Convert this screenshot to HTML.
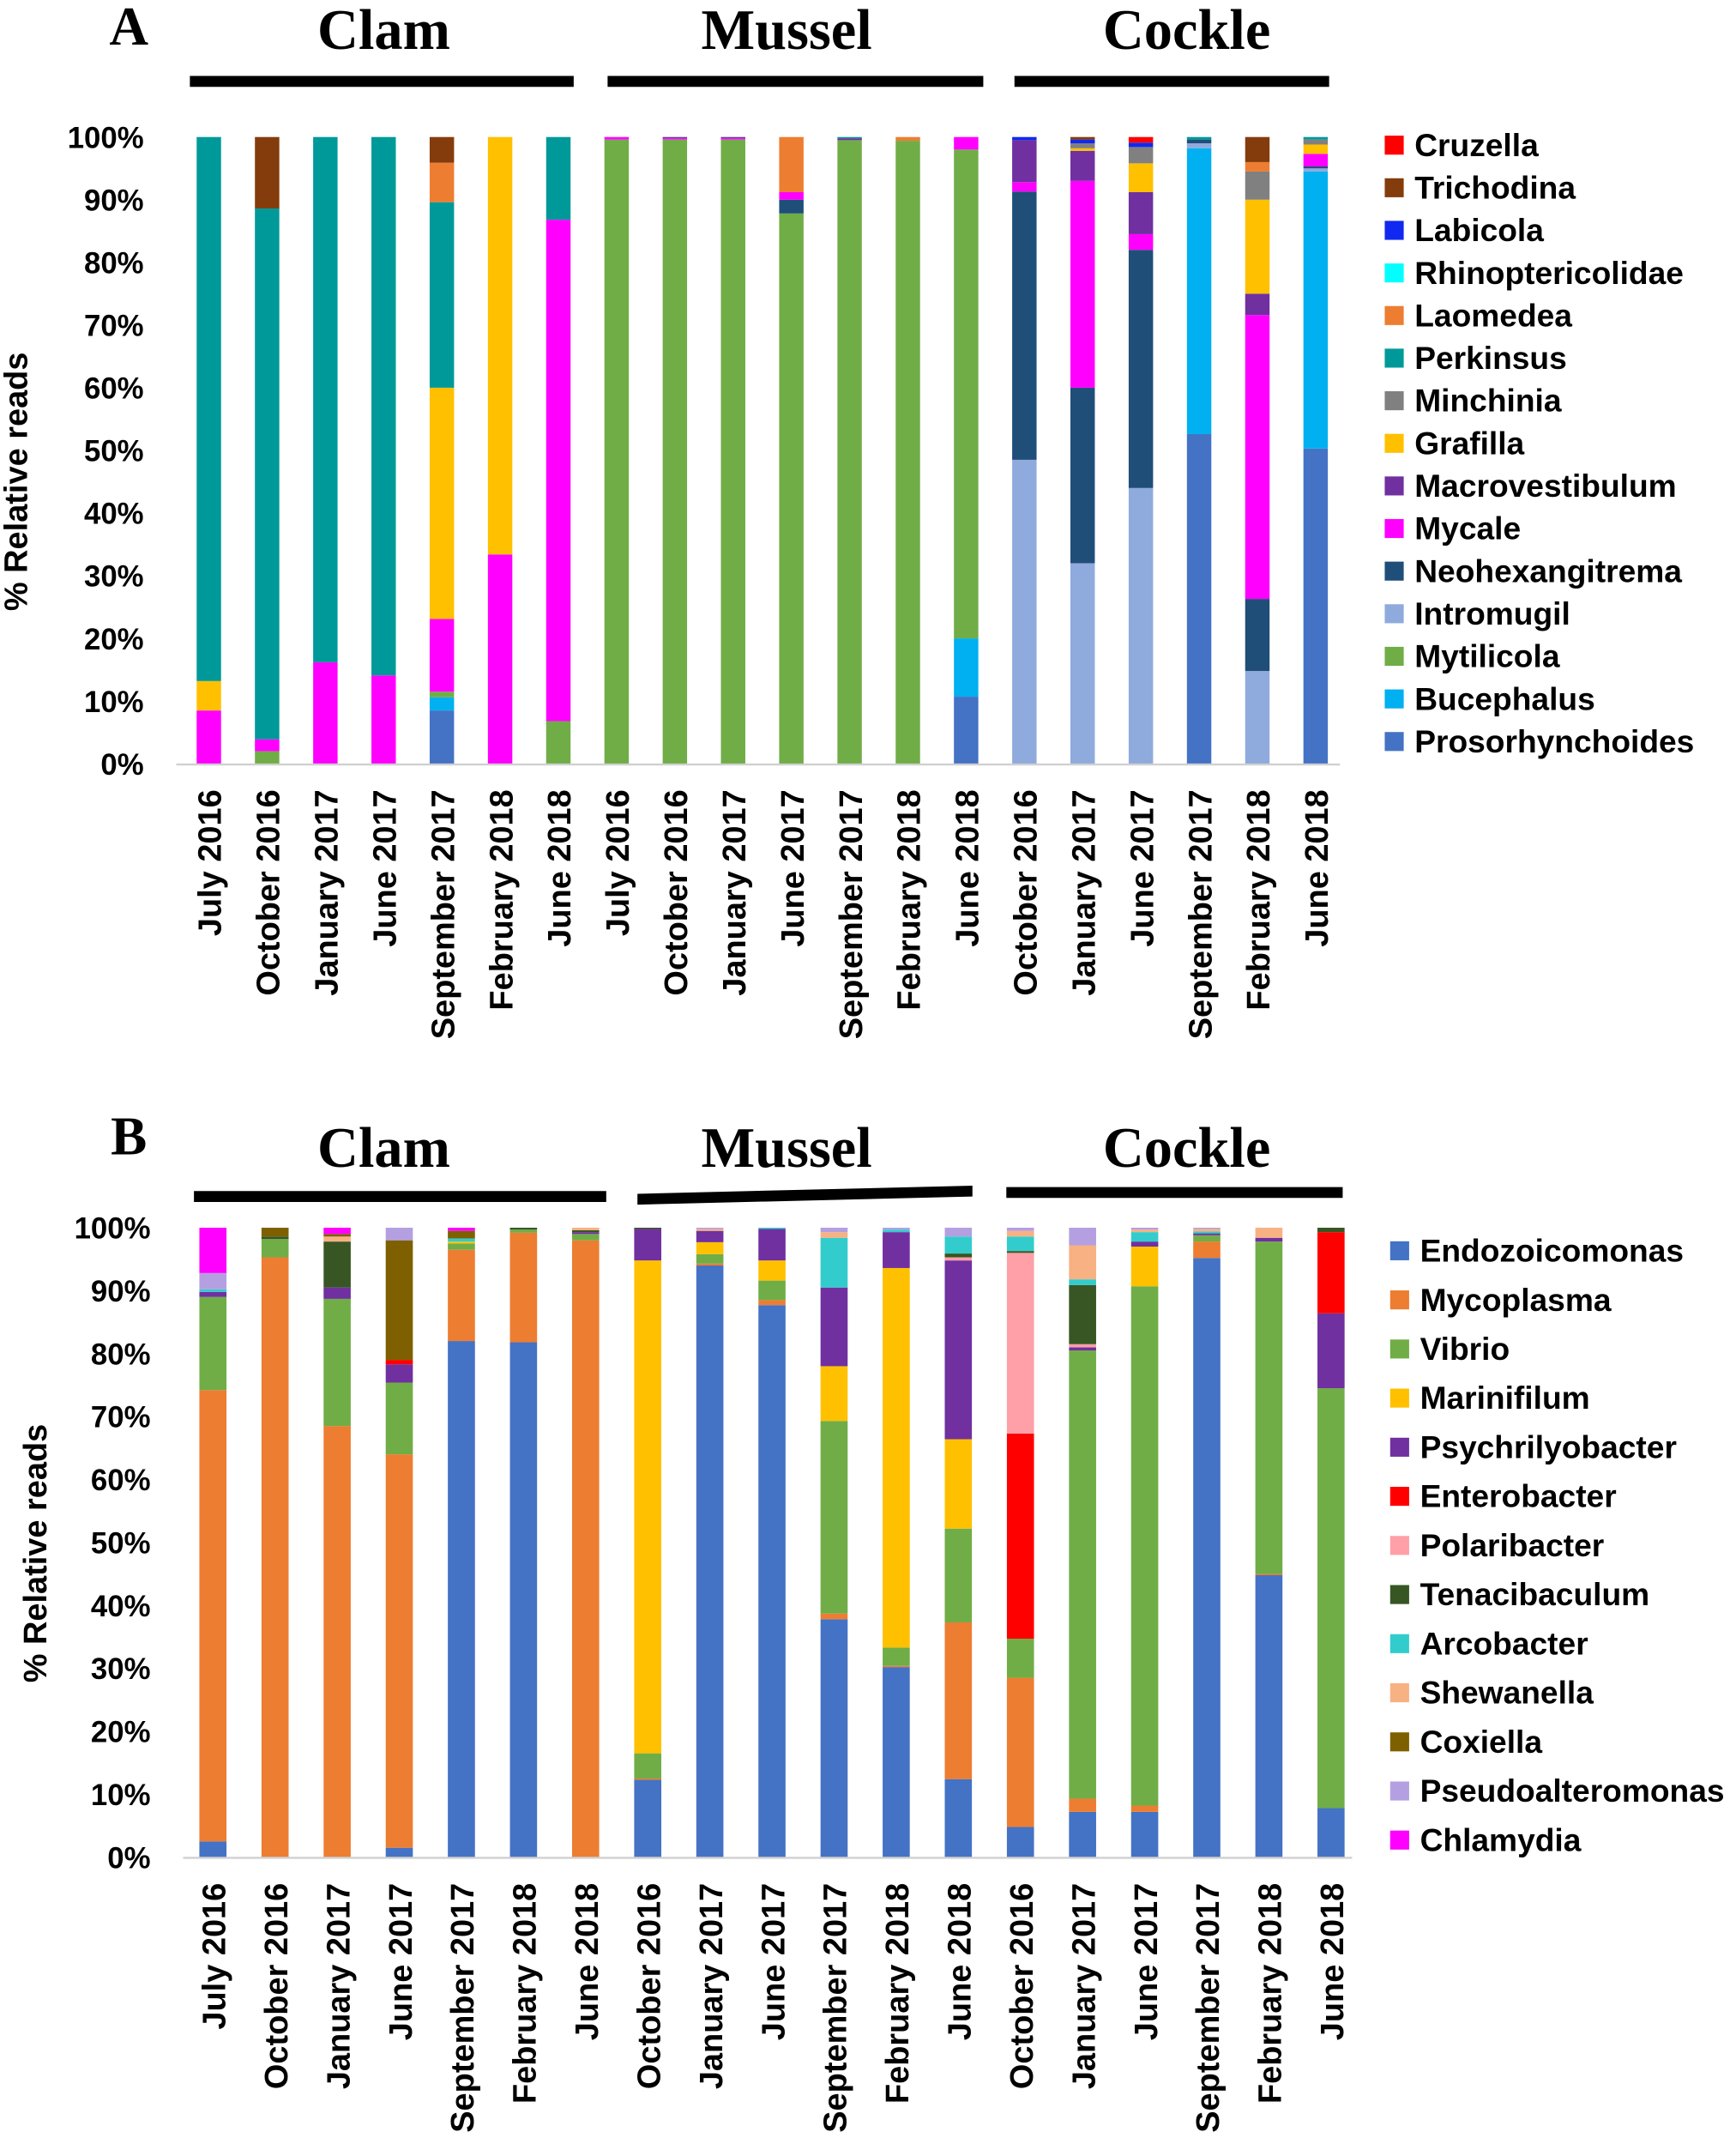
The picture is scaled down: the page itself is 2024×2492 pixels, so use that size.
<!DOCTYPE html>
<html><head><meta charset="utf-8"><style>
html,body{margin:0;padding:0;background:#fff;}
svg{display:block;}
text{font-family:"Liberation Sans",sans-serif;font-weight:bold;fill:#000;}
.serif{font-family:"Liberation Serif",serif;}
</style></head><body>
<svg id="fig" xmlns="http://www.w3.org/2000/svg" width="2024" height="2492" viewBox="0 0 1280 1576" preserveAspectRatio="none"></svg>
<script>
// ---------- Panel A data ----------
const catsA = ["July 2016","October 2016","January 2017","June 2017","September 2017","February 2018","June 2018","July 2016","October 2016","January 2017","June 2017","September 2017","February 2018","June 2018","October 2016","January 2017","June 2017","September 2017","February 2018","June 2018"];
const seriesNamesA = ["Prosorhynchoides","Bucephalus","Mytilicola","Intromugil","Neohexangitrema","Mycale","Macrovestibulum","Grafilla","Minchinia","Perkinsus","Laomedea","Rhinoptericolidae","Labicola","Trichodina","Cruzella"];
const colorsA = ["#4472C4","#00B0F0","#70AD47","#8FAADC","#1F4E79","#FF00FF","#7030A0","#FFC000","#808080","#009999","#ED7D31","#00FFFF","#1028F0","#843C0C","#FF0000"];
const aProsor = [0,0,0,0,8.5,0,0, 0,0,0,0,0,0,10.7, 0,0,0,52.6,0,50.3];
const aBuceph = [0,0,0,0,2.1,0,0, 0,0,0,0,0,0,9.3, 0,0,0,45.6,0,44.2];
const aMytil = [0,2,0,0,0.9,0,6.8, 99.6,99.6,99.6,87.8,99.5,99.4,78, 0,0,0,0,0,0];
const aIntro = [0,0,0,0,0,0,0, 0,0,0,0,0,0,0, 48.5,32,44,0.8,14.8,0.5];
const aNeohex = [0,0,0,0,0,0,0, 0,0,0,2.2,0,0,0, 42.8,28,38,0.6,11.5,0.3];
const aMycale = [8.5,1.9,16.2,14.1,11.6,33.4,80, 0.4,0.2,0.2,1.2,0,0,2, 1.5,33,2.5,0,45.3,2];
const aMacro = [0,0,0,0,0,0,0, 0,0.2,0.2,0,0.3,0,0, 6.7,4.8,6.7,0,3.4,0];
const aGraf = [4.7,0,0,0,36.9,66.6,0, 0,0,0,0,0,0,0, 0,0.4,4.6,0,15,1.5];
const aMinch = [0,0,0,0,0,0,0, 0,0,0,0,0,0,0, 0,0.8,2.6,0,4.5,0.8];
const aPerk = [86.8,84.7,83.8,85.9,29.6,0,13.2, 0,0,0,0,0.2,0,0, 0,0,0,0.4,0,0.4];
const aLaom = [0,0,0,0,6.3,0,0, 0,0,0,8.8,0,0.6,0, 0,0,0,0,1.5,0];
const aRhino = [0,0,0,0,0,0,0, 0,0,0,0,0,0,0, 0,0,0,0,0,0];
const aLabic = [0,0,0,0,0,0,0, 0,0,0,0,0,0,0, 0.5,0.6,0.7,0,0,0];
const aTrich = [0,11.4,0,0,4.1,0,0, 0,0,0,0,0,0,0, 0,0.4,0,0,4,0];
const aCruz = [0,0,0,0,0,0,0, 0,0,0,0,0,0,0, 0,0,0.9,0,0,0];
const valuesA = [aProsor,aBuceph,aMytil,aIntro,aNeohex,aMycale,aMacro,aGraf,aMinch,aPerk,aLaom,aRhino,aLabic,aTrich,aCruz];

// ---------- Panel B data ----------
const catsB = ["July 2016","October 2016","January 2017","June 2017","September 2017","February 2018","June 2018","October 2016","January 2017","June 2017","September 2017","February 2018","June 2018","October 2016","January 2017","June 2017","September 2017","February 2018","June 2018"];
const seriesNamesB = ["Endozoicomonas","Mycoplasma","Vibrio","Marinifilum","Psychrilyobacter","Enterobacter","Polaribacter","Tenacibaculum","Arcobacter","Shewanella","Coxiella","Pseudoalteromonas","Chlamydia"];
const colorsB = ["#4472C4","#ED7D31","#70AD47","#FFC000","#7030A0","#FF0000","#FF9FA8","#375623","#33CCCC","#F8B183","#7F6000","#B4A0E0","#FF00FF"];
const bEndo = [2.5,0,0,1.5,82,81.8,0, 12.3,94,87.7,37.8,30.2,12.4, 4.8,7.2,7.2,95.2,44.8,7.8];
const bMyco = [71.7,95.3,68.5,62.5,14.5,17.4,98, 0.2,0.3,0.8,0.9,0.2,24.9, 23.7,2.1,1,2.6,0.2,0];
const bVibrio = [14.8,2.9,20.2,11.4,1,0.5,1, 4,1.5,3.1,30.6,2.9,14.9, 6.2,71.2,82.5,1,52.8,66.7];
const bMarin = [0,0,0,0,0.3,0,0, 78.3,1.9,3.2,8.7,60.3,14.2, 0,0,6.3,0,0,0];
const bPsych = [0.8,0,1.8,2.9,0,0,0.3, 5,1.8,5,12.5,5.7,28.4, 0,0.5,0.8,0.3,0.6,11.9];
const bEntero = [0,0,0,0.7,0,0,0, 0,0,0,0,0,0, 32.6,0,0,0,0,12.9];
const bPolari = [0,0,0,0,0,0,0, 0,0,0,0,0,0.5, 28.7,0.5,0,0,0,0];
const bTenaci = [0,0.4,7.3,0,0,0.3,0.3, 0.2,0,0,0,0,0.6, 0.3,9.4,0,0,0,0.7];
const bArco = [0.4,0,0,0,0.5,0,0, 0,0,0.2,7.9,0.4,2.7, 2.3,0.9,1.5,0.3,0,0];
const bShewan = [0,0,0.8,0,0,0,0.4, 0,0.3,0,0.9,0,0, 0.9,5.4,0.4,0.4,1.6,0];
const bCoxi = [0,1.4,0.4,19,1.2,0,0, 0,0,0,0,0,0, 0,0,0,0,0,0];
const bPseudo = [2.6,0,0,2,0,0,0, 0,0.2,0,0.7,0.3,1.4, 0.5,2.8,0.3,0.2,0,0];
const bChlam = [7.2,0,1,0,0.5,0,0, 0,0,0,0,0,0, 0,0,0,0,0,0];
const valuesB = [bEndo,bMyco,bVibrio,bMarin,bPsych,bEntero,bPolari,bTenaci,bArco,bShewan,bCoxi,bPseudo,bChlam];

const yTicks = [0,10,20,30,40,50,60,70,80,90,100];
const groupNames = ["Clam","Mussel","Cockle"];

const NS = "http://www.w3.org/2000/svg";
const svg = document.getElementById("fig");
function mk(tag, attrs, parent, txt){
  const e = document.createElementNS(NS, tag);
  for (const k in attrs) e.setAttribute(k, attrs[k]);
  if (txt !== undefined) e.textContent = txt;
  (parent || svg).appendChild(e);
  return e;
}

function panel(cfg){
  const g = mk("g", {});
  
  
  const yScale = v => cfg.y0 - (v/100)*(cfg.y0 - cfg.y100);
  const xScale = i => cfg.x0 + i*cfg.step;
  const L = mk("text", {x:cfg.letterX, y:cfg.letterY, "font-size":40, "class":"serif", "text-anchor":"middle"}, g, cfg.letter);
  
  
  groupNames.forEach((n, k) => {
    const t = mk("text", {x:cfg.headX[k], y:cfg.headY, "font-size":42, "class":"serif", "text-anchor":"middle"}, g, n);
    
    
    const ln = cfg.lines[k];
    const p = mk("polygon", {points:`${ln[0]},${ln[1]-4} ${ln[2]},${ln[3]-4} ${ln[2]},${ln[3]+4} ${ln[0]},${ln[1]+4}`, fill:"#000"}, g);
    
    
  });
  yTicks.forEach(v => {
    const t = mk("text", {x:cfg.tickX, y:yScale(v)+8, "font-size":22, "text-anchor":"end"}, g, v + "%");
    
    
  });
  const yt = mk("text", {x:0, y:0, "font-size":24, "text-anchor":"middle", transform:`translate(${cfg.ytX},${cfg.ytY}) rotate(-90)`}, g, "% Relative reads");
  
  
  cfg.cats.forEach((c, i) => {
    let cum = 0;
    cfg.values.forEach((arr, s) => {
      const v = arr[i];
      if (v > 0) {
        const r = mk("rect", {x:xScale(i)-cfg.bw/2, y:yScale(cum+v), width:cfg.bw, height:yScale(cum)-yScale(cum+v), fill:cfg.colors[s]}, g);
        
        
      }
      cum += v;
    });
    const t = mk("text", {x:0, y:0, "font-size":24, "text-anchor":"end", transform:`translate(${xScale(i)+9},${cfg.labelTop}) rotate(-90)`}, g, c);
    
    
  });
  const ax = mk("line", {x1:cfg.axL, x2:cfg.axR, y1:cfg.y0+0.5, y2:cfg.y0+0.5, stroke:"#d0d0d0", "stroke-width":1.5}, g);
  
  
  const n = cfg.names.length;
  for (let j = 0; j < n; j++) {
    const s = cfg.legReverse ? n - 1 - j : j;
    const yy = cfg.legY0 + j*cfg.legStep;
    const sw = mk("rect", {x:cfg.legX, y:yy-7, width:14, height:14, fill:cfg.colors[s]}, g);
    
    
    const t = mk("text", {x:cfg.legX+22, y:yy+8, "font-size":cfg.legFont}, g, cfg.names[s]);
    
    
  }
}

panel({prefix:"a", letter:"A", letterX:95, letterY:33, headX:[283,580,875], headY:36,
  lines:[[140,60,423,60],[448,60,725,60],[748,60,980,60]],
  y0:563, y100:101, tickX:106, ytX:20, ytY:355,
  x0:154, step:42.95, bw:18, cats:catsA, values:valuesA, colors:colorsA, names:seriesNamesA,
  labelTop:582, axL:130, axR:988, legX:1021, legY0:107, legStep:31.4, legFont:23.5, legReverse:true});

panel({prefix:"b", letter:"B", letterX:95, letterY:851, headX:[283,580,875], headY:860,
  lines:[[143,882,447,882],[470,884,717,878],[742,879,990,879]],
  y0:1369, y100:905, tickX:111, ytX:34, ytY:1145,
  x0:157, step:45.8, bw:20, cats:catsB, values:valuesB, colors:colorsB, names:seriesNamesB,
  labelTop:1388, axL:135, axR:997, legX:1025, legY0:922, legStep:36.2, legFont:23.5, legReverse:false});
</script>
</body></html>
